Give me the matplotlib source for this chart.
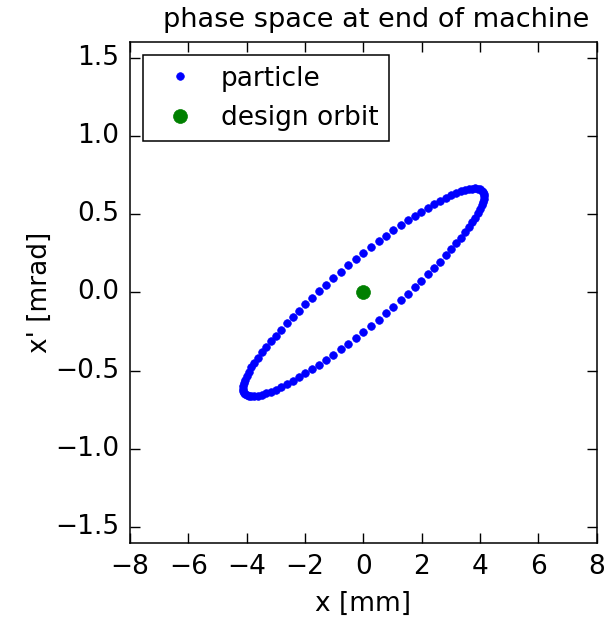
import numpy as np
import matplotlib
matplotlib.use("Agg")
import matplotlib.pyplot as plt

# particle coordinates (x in mm, x' in mrad)
x_particle = [4.130, 4.122, 4.097, 4.057, 4.000, 3.928, 3.840, 3.737, 3.619, 3.487,
              3.341, 3.182, 3.011, 2.827, 2.633, 2.428, 2.213, 1.990, 1.758, 1.520,
              1.276, 1.027, 0.774, 0.518, 0.259, 0.000, -0.259, -0.518, -0.774, -1.027,
              -1.276, -1.520, -1.758, -1.990, -2.213, -2.428, -2.633, -2.827, -3.011, -3.182,
              -3.341, -3.487, -3.619, -3.737, -3.840, -3.928, -4.000, -4.057, -4.097, -4.122,
              -4.130, -4.122, -4.097, -4.057, -4.000, -3.928, -3.840, -3.737, -3.619, -3.487,
              -3.341, -3.182, -3.011, -2.827, -2.633, -2.428, -2.213, -1.990, -1.758, -1.520,
              -1.276, -1.027, -0.774, -0.518, -0.259, 0.000, 0.259, 0.518, 0.774, 1.027,
              1.276, 1.520, 1.758, 1.990, 2.213, 2.428, 2.633, 2.827, 3.011, 3.182,
              3.341, 3.487, 3.619, 3.737, 3.840, 3.928, 4.000, 4.057, 4.097, 4.122]
xp_particle = [0.614, 0.629, 0.641, 0.651, 0.658, 0.662, 0.664, 0.663, 0.660, 0.654,
               0.645, 0.634, 0.620, 0.604, 0.586, 0.565, 0.542, 0.517, 0.490, 0.461,
               0.430, 0.397, 0.363, 0.327, 0.290, 0.252, 0.213, 0.173, 0.133, 0.092,
               0.050, 0.009, -0.033, -0.075, -0.116, -0.157, -0.197, -0.237, -0.275, -0.313,
               -0.349, -0.383, -0.417, -0.448, -0.478, -0.506, -0.532, -0.556, -0.578, -0.597,
               -0.614, -0.629, -0.641, -0.651, -0.658, -0.662, -0.664, -0.663, -0.660, -0.654,
               -0.645, -0.634, -0.620, -0.604, -0.586, -0.565, -0.542, -0.517, -0.490, -0.461,
               -0.430, -0.397, -0.363, -0.327, -0.290, -0.252, -0.213, -0.173, -0.133, -0.092,
               -0.050, -0.009, 0.033, 0.075, 0.116, 0.157, 0.197, 0.237, 0.275, 0.313,
               0.349, 0.383, 0.417, 0.448, 0.478, 0.506, 0.532, 0.556, 0.578, 0.597]
x_design = [0.0]
xp_design = [0.0]

plt.style.use('classic')
plt.rcParams['font.family'] = ['DejaVu Sans']
plt.rcParams['font.size'] = 19
plt.rcParams['axes.linewidth'] = 1.1
plt.rcParams['xtick.major.size'] = 7
plt.rcParams['ytick.major.size'] = 7
plt.rcParams['xtick.major.width'] = 1.0
plt.rcParams['ytick.major.width'] = 1.0
plt.rcParams['xtick.major.pad'] = 8
plt.rcParams['ytick.major.pad'] = 8

fig = plt.figure(figsize=(6.09, 6.17), dpi=100, facecolor='white')
ax = fig.add_axes([0.2135, 0.12, 0.7665, 0.812])

ax.plot(x_particle, xp_particle, 'b.', markersize=11, label='particle')
ax.plot(x_design, xp_design, 'go', markersize=10, markeredgecolor='g', label='design orbit')

ax.set_xlim(-8, 8)
ax.set_ylim(-1.6, 1.6)
ax.set_xticks(np.arange(-8, 9, 2))
ax.set_yticks([-1.5, -1.0, -0.5, 0.0, 0.5, 1.0, 1.5])
ax.set_xlabel('x [mm]', labelpad=8)
ax.set_ylabel("x' [mrad]", labelpad=1)
ax.set_title('phase space at end of machine', fontsize=19.5, x=0.527, pad=11)
leg = ax.legend(loc='upper left', numpoints=1, fontsize=19, handletextpad=0.55)
leg.get_frame().set_linewidth(1.1)

fig.savefig('out.png', dpi=100, facecolor='white')
